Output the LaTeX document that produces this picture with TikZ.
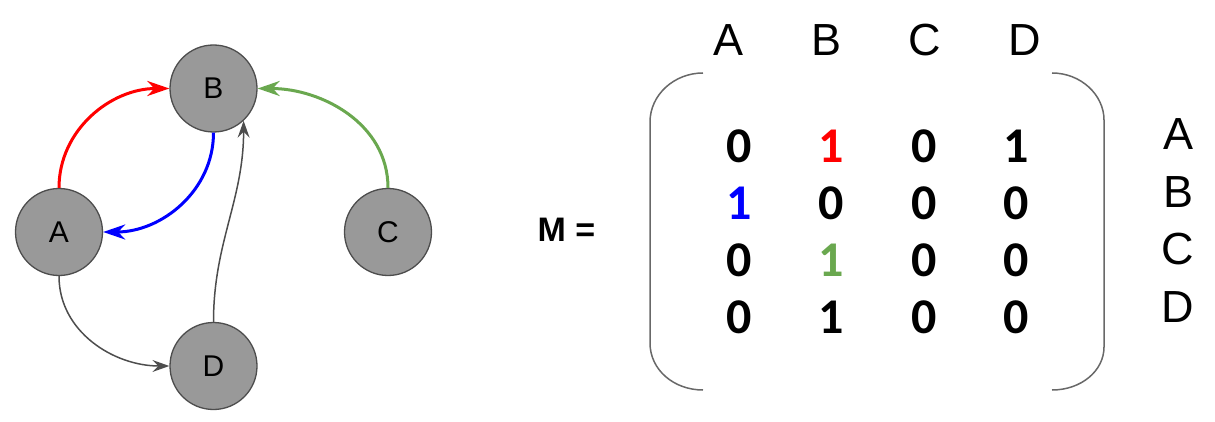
\documentclass[tikz,border=0pt]{standalone}
\usepackage{fontspec}
\setmainfont{Liberation Sans}
\newfontfamily\digits{Carlito}
\usetikzlibrary{arrows.meta}
\definecolor{vfill}{HTML}{999999}
\definecolor{vline}{HTML}{4D4D4D}
\definecolor{egreen}{HTML}{6AA84F}

\begin{document}
\begin{tikzpicture}[x=1pt,y=1pt,%
  vert/.style={circle,fill=vfill,draw=vline,line width=1.3pt,minimum size=87pt,
    inner sep=0pt,font=\fontsize{30}{36}\selectfont},
  lbl/.style={inner sep=0pt,font=\fontsize{45}{54}\selectfont},
  ent/.style={inner sep=0pt,font=\digits\bfseries\fontsize{50}{60}\selectfont},
  edge/.style={line width=3pt,-{Stealth[length=22pt,width=15pt,inset=7pt]}},
  thin/.style={draw=vline,line width=1.5pt,-{Stealth[length=17pt,width=12pt,inset=6pt]}},
  bracket/.style={draw=vline!85,line width=1.5pt}]
  \useasboundingbox (0,0) rectangle (1215,-422);
  % graph
  \node[vert] (A) at (59,-232) {A};
  \node[vert] (B) at (213.5,-88.5) {B};
  \node[vert] (C) at (388,-232) {C};
  \node[vert] (D) at (213.5,-366) {D};
  \draw[edge,red] (A) to[out=90,in=180] (B);
  \draw[edge,blue] (B) to[out=-90,in=0] (A);
  \draw[edge,egreen] (C) to[out=90,in=0] (B);
  \draw[thin] (A) to[out=-90,in=180] (D);
  \draw[thin] (D) to[out=90,in=-90] (B.-47);
  % matrix
  \node[inner sep=0pt,font=\bfseries\fontsize{34}{40}\selectfont] (M) at (566.5,-229.5) {M =};
  \draw[bracket] (703,-73) .. controls (674,-73) and (650,-95) .. (650,-122)
    -- (650,-343) .. controls (650,-370) and (674,-390) .. (703,-390);
  \draw[bracket] (1052,-73) .. controls (1081,-73) and (1104,-95) .. (1104,-120)
    -- (1104,-347) .. controls (1104,-371) and (1081,-390) .. (1052,-390);
  \node[lbl] (hA) at (728,-40) {A}; \node[lbl] (hB) at (826.5,-40) {B};
  \node[lbl] (hC) at (925,-40) {C}; \node[lbl] (hD) at (1025,-40) {D};
  \node[lbl] (rA) at (1178,-134.5) {A}; \node[lbl] (rB) at (1178,-192) {B};
  \node[lbl] (rC) at (1178,-249.5) {C}; \node[lbl] (rD) at (1178,-307) {D};
  \node[ent] (m11) at (739,-146.5) {0}; \node[ent,red] (m12) at (831.5,-146.5) {1};
  \node[ent] (m13) at (924,-146.5) {0}; \node[ent] (m14) at (1016,-146.5) {1};
  \node[ent,blue] (m21) at (739,-203.5) {1}; \node[ent] (m22) at (831.5,-203.5) {0};
  \node[ent] (m23) at (924,-203.5) {0}; \node[ent] (m24) at (1016,-203.5) {0};
  \node[ent] (m31) at (739,-260.5) {0}; \node[ent,egreen] (m32) at (831.5,-260.5) {1};
  \node[ent] (m33) at (924,-260.5) {0}; \node[ent] (m34) at (1016,-260.5) {0};
  \node[ent] (m41) at (739,-317.5) {0}; \node[ent] (m42) at (831.5,-317.5) {1};
  \node[ent] (m43) at (924,-317.5) {0}; \node[ent] (m44) at (1016,-317.5) {0};
\end{tikzpicture}
\end{document}
